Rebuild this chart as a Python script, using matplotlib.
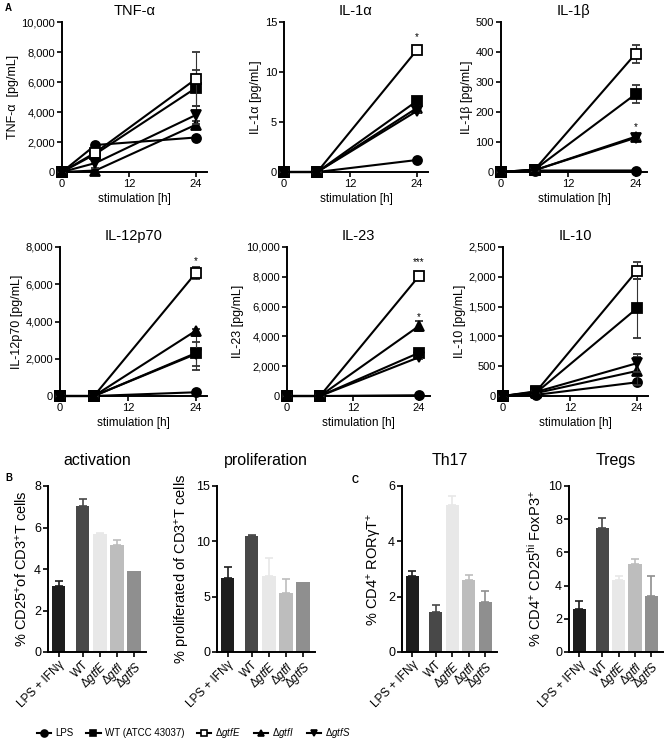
import numpy as np
import matplotlib
matplotlib.use('Agg')
import matplotlib.pyplot as plt
from matplotlib.ticker import StrMethodFormatter
from matplotlib.lines import Line2D

plt.rcParams['font.family'] = ['Liberation Sans', 'DejaVu Sans']
plt.rcParams['mathtext.fontset'] = 'custom'
plt.rcParams['mathtext.rm'] = 'Liberation Sans'
plt.rcParams['mathtext.it'] = 'Liberation Sans:italic'

# time course data (rows: LPS, WT, gtfE, gtfI, gtfS ; columns: 0, 6, 24 h)
hours = [0, 6, 24]
groups = ['LPS', 'WT (ATCC 43037)', r'Δ$\mathit{gtfE}$', r'Δ$\mathit{gtfI}$', r'Δ$\mathit{gtfS}$']

tnf = [[0, 1800, 2300], [0, 1200, 5600], [0, 1300, 6200], [0, 100, 3150], [0, 600, 3800]]
tnf_err = [[0, 100, 100], [0, 200, 1200], [0, 200, 1800], [0, 50, 250], [0, 300, 600]]

il1a = [[0, 0, 1.2], [0, 0, 7.1], [0, 0, 12.2], [0, 0, 6.4], [0, 0, 6.1]]
il1a_err = [[0, 0, 0.1], [0, 0, 0.3], [0, 0, 0.3], [0, 0, 0.2], [0, 0, 0.2]]

il1b = [[0, 5, 5], [0, 8, 260], [0, 8, 395], [0, 6, 118], [0, 6, 114]]
il1b_err = [[0, 1, 2], [0, 2, 30], [0, 2, 30], [0, 1, 5], [0, 1, 5]]

il12 = [[0, 0, 200], [0, 0, 2300], [0, 0, 6600], [0, 0, 3500], [0, 0, 2250]]
il12_err = [[0, 0, 30], [0, 0, 900], [0, 0, 300], [0, 0, 100], [0, 0, 650]]

il23 = [[0, 0, 50], [0, 0, 2900], [0, 0, 8050], [0, 0, 4700], [0, 0, 2600]]
il23_err = [[0, 0, 10], [0, 0, 150], [0, 0, 150], [0, 0, 350], [0, 0, 100]]

il10 = [[0, 20, 230], [0, 60, 1470], [0, 80, 2100], [0, 50, 420], [0, 70, 550]]
il10_err = [[0, 5, 30], [0, 10, 500], [0, 10, 140], [0, 10, 230], [0, 10, 150]]

# T cell bar data (LPS + IFNg, WT, gtfE, gtfI, gtfS)
bar_labels = ['LPS + IFNγ', 'WT', r'Δ$\mathit{gtfE}$', r'Δ$\mathit{gtfI}$', r'Δ$\mathit{gtfS}$']
activation = [3.2, 7.05, 5.7, 5.15, 3.9]
activation_err = [0.2, 0.3, 0.05, 0.25, 0]
proliferation = [6.65, 10.45, 6.9, 5.3, 6.3]
proliferation_err = [1.05, 0.15, 1.6, 1.3, 0]
th17 = [2.75, 1.45, 5.3, 2.6, 1.8]
th17_err = [0.18, 0.25, 0.33, 0.17, 0.4]
tregs = [2.6, 7.45, 4.35, 5.3, 3.4]
tregs_err = [0.45, 0.65, 0.2, 0.3, 1.2]

markers = ['o', 's', 's', '^', 'v']
faces = ['black', 'black', 'white', 'black', 'black']
bar_colors = ['#1e1e1e', '#484848', '#e8e8e8', '#bdbdbd', '#8f8f8f']
bar_pos = [0, 1.4, 2.4, 3.4, 4.4]

W, H = 666, 753
fig = plt.figure(figsize=(W / 100, H / 100), dpi=100)


def px_axes(left, top, right, bottom):
    return fig.add_axes([left / W, 1 - bottom / H, (right - left) / W, (bottom - top) / H])


def style(ax):
    for s in ['top', 'right']:
        ax.spines[s].set_visible(False)
    for s in ['left', 'bottom']:
        ax.spines[s].set_linewidth(1.4)
    ax.tick_params(direction='out', length=3.5, width=1.2, labelsize=8, pad=1.5)


def line_panel(ax, means, errs, title, ylabel, ymax, ystep, stars):
    style(ax)
    for g in range(5):
        cont = ax.errorbar(hours, means[g], yerr=errs[g], color='black', lw=1.5,
                           marker=markers[g], ms=6.5, mfc=faces[g], mec='black', mew=1.3,
                           ecolor='#333333', elinewidth=0.8, capsize=3, capthick=0.8,
                           zorder=3 + g * 0.1)
        for a in cont.get_children():
            a.set_clip_on(False)
    ax.set_xlim(0, 26)
    ax.set_xticks([0, 12, 24])
    ax.set_ylim(0, ymax)
    ax.set_yticks(np.arange(0, ymax + ystep / 2, ystep))
    ax.yaxis.set_major_formatter(StrMethodFormatter('{x:,.0f}'))
    ax.set_title(title, fontsize=10.5, pad=5)
    ax.set_ylabel(ylabel, fontsize=9, labelpad=2)
    ax.set_xlabel('stimulation [h]', fontsize=8.5, labelpad=3)
    for y, s in stars:
        ax.text(24, y, s, ha='center', va='center', fontsize=7)


def bar_panel(ax, vals, errs, title, ylabel, ymax, ystep):
    style(ax)
    ax.bar(bar_pos, vals, width=0.8, color=bar_colors, zorder=2)
    for x, v, e, c in zip(bar_pos, vals, errs, bar_colors):
        if e > 0:
            ax.errorbar(x, v, yerr=[[0], [e]], color=c, elinewidth=1.2, capsize=3,
                        capthick=1.2, zorder=1)
    ax.set_xlim(-0.62, 5.1)
    ax.set_ylim(0, ymax)
    ax.set_yticks(np.arange(0, ymax + ystep / 2, ystep))
    ax.set_xticks(bar_pos)
    ax.set_xticklabels(bar_labels, rotation=45, ha='right', rotation_mode='anchor')
    ax.tick_params(axis='y', labelsize=9)
    ax.tick_params(axis='x', labelsize=8.5)
    ax.set_title(title, fontsize=11.5, pad=15)
    ax.set_ylabel(ylabel, fontsize=10.5, labelpad=3)


ax = px_axes(62, 22, 207, 172)
line_panel(ax, tnf, tnf_err, 'TNF-α', 'TNF-α  [pg/mL]', 10000, 2000, [])
ax = px_axes(284, 22, 428, 172)
line_panel(ax, il1a, il1a_err, 'IL-1α', 'IL-1α [pg/mL]', 15, 5, [(13.5, '*')])
ax = px_axes(501, 22, 647, 172)
line_panel(ax, il1b, il1b_err, 'IL-1β', 'IL-1β [pg/mL]', 500, 100, [(150, '*')])
ax = px_axes(60, 247, 207, 396)
line_panel(ax, il12, il12_err, 'IL-12p70', 'IL-12p70 [pg/mL]', 8000, 2000, [(7250, '*')])
ax = px_axes(287, 247, 430, 396)
line_panel(ax, il23, il23_err, 'IL-23', 'IL-23 [pg/mL]', 10000, 2000, [(9000, '***'), (5300, '*')])
ax = px_axes(503, 247, 648, 396)
line_panel(ax, il10, il10_err, 'IL-10', 'IL-10 [pg/mL]', 2500, 500, [])

ax = px_axes(48, 486, 146, 652)
bar_panel(ax, activation, activation_err, 'activation', r'% CD25$^{+}$of CD3$^{+}$T cells', 8, 2)
ax = px_axes(217, 486, 315, 652)
bar_panel(ax, proliferation, proliferation_err, 'proliferation', r'% proliferated of CD3$^{+}$T cells', 15, 5)
ax = px_axes(402, 486, 497, 652)
bar_panel(ax, th17, th17_err, 'Th17', r'% CD4$^{+}$ RORγT$^{+}$', 6, 2)
ax = px_axes(569, 486, 663, 652)
bar_panel(ax, tregs, tregs_err, 'Tregs', r'% CD4$^{+}$ CD25$^{\mathrm{hi}}$ FoxP3$^{+}$', 10, 2)

fig.text(5 / W, 1 - 8 / H, 'A', fontsize=7, fontweight='bold', va='center')
fig.text(5 / W, 1 - 478 / H, 'B', fontsize=7, fontweight='bold', va='center')
fig.text(352 / W, 1 - 480 / H, 'C', fontsize=7, fontweight='bold', va='center')

handles = [Line2D([], [], color='black', lw=1.5, marker=m, ms=5, mfc=f, mec='black', mew=1.2)
           for m, f in zip(markers, faces)]
fig.legend(handles, groups, loc='center left', bbox_to_anchor=(28 / W, 1 - 733 / H),
           ncol=5, frameon=False, fontsize=7, handlelength=1.5, handletextpad=0.4,
           columnspacing=1.3)

fig.savefig('out.png', dpi=100)
